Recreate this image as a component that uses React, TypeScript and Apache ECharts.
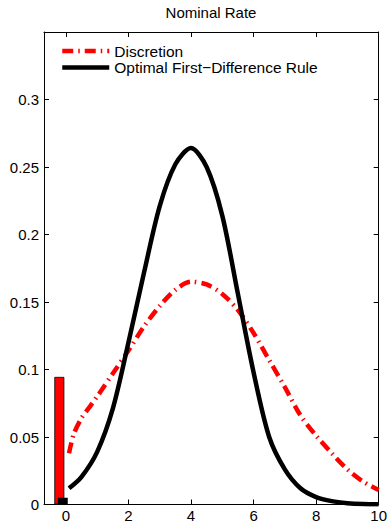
import React, { useEffect, useRef } from "react";
import * as echarts from "echarts";

const titleText = "Nominal Rate";
const seriesNames = ["Discretion", "Optimal First\u2212Difference Rule"];

const discretionX = [0.1, 0.25, 0.5, 0.75, 1.0, 1.5, 2.0, 2.5, 3.0, 3.5, 4.0, 4.5, 5.0, 5.5, 6.0, 6.5, 7.0, 7.5, 8.0, 8.5, 9.0, 9.5, 10.0];
const discretionY = [0.038, 0.052, 0.064, 0.072, 0.080, 0.097, 0.114, 0.132, 0.147, 0.159, 0.165, 0.163, 0.156, 0.144, 0.127, 0.107, 0.087, 0.066, 0.051, 0.038, 0.026, 0.017, 0.0107];

const optimalX = [0.1, 0.5, 1.0, 1.5, 2.0, 2.5, 3.0, 3.5, 4.0, 4.5, 5.0, 5.5, 6.0, 6.5, 7.0, 7.5, 8.0, 8.5, 9.0, 9.5, 10.0];
const optimalY = [0.012, 0.0205, 0.039, 0.071, 0.120, 0.172, 0.221, 0.252, 0.264, 0.250, 0.214, 0.156, 0.098, 0.050, 0.026, 0.012, 0.0055, 0.0025, 0.001, 0.0003, 0.0001];

// mass at the zero lower bound (bars drawn just left of 0)
const barDiscretion = [-0.21, 0.0945];
const barOptimal = [-0.1, 0.005];

const xTicks = [0, 2, 4, 6, 8, 10];
const xMin = -0.7;
const xMax = 10;
const yMin = 0;
const yMax = 0.35;
const yStep = 0.05;

const FONT = "'Liberation Sans', Arial, Helvetica, sans-serif";

export default function App() {
  const ref = useRef<HTMLDivElement>(null);
  useEffect(() => {
    if (!ref.current) return;
    const chart = echarts.init(ref.current, undefined, { renderer: "svg" });
    const dData = discretionX.map((x, i) => [x, discretionY[i]]);
    const oData = optimalX.map((x, i) => [x, optimalY[i]]);
    const yFmt = (v: number) => {
      if (v > yMax - 1e-6) return "";
      return String(Math.round(v * 100) / 100);
    };
    chart.setOption({
      animation: false,
      backgroundColor: "#fff",
      textStyle: { fontFamily: FONT },
      title: {
        text: titleText,
        left: 211,
        textAlign: "center",
        top: 5,
        padding: 0,
        textStyle: { fontFamily: FONT, fontSize: 15, fontWeight: "normal", color: "#000" },
      },
      legend: {
        data: seriesNames,
        left: 60,
        top: 43,
        orient: "vertical",
        itemWidth: 47,
        itemHeight: 19,
        itemGap: 0.5,
        padding: 0,
        itemStyle: { opacity: 0 },
        lineStyle: { width: 4.5 },
        textStyle: { fontFamily: FONT, fontSize: 15.5, color: "#000" },
      },
      grid: { left: 44, right: 10, top: 32, bottom: 21.5, containLabel: false },
      xAxis: [
        {
          type: "value",
          min: xMin,
          max: xMax,
          position: "bottom",
          axisLine: { show: true, lineStyle: { color: "#000", width: 1 } },
          axisTick: { show: true, inside: true, length: 5, customValues: xTicks, lineStyle: { color: "#000" } },
          axisLabel: { show: true, customValues: xTicks, margin: 3, fontFamily: FONT, fontSize: 15, color: "#000" },
          splitLine: { show: false },
        },
        {
          type: "value",
          min: xMin,
          max: xMax,
          position: "top",
          axisLine: { show: true, onZero: false, lineStyle: { color: "#000", width: 1 } },
          axisTick: { show: true, inside: true, length: 5, customValues: xTicks, lineStyle: { color: "#000" } },
          axisLabel: { show: false },
          splitLine: { show: false },
        },
      ],
      yAxis: [
        {
          type: "value",
          min: yMin,
          max: yMax,
          interval: yStep,
          position: "left",
          axisLine: { show: true, onZero: false, lineStyle: { color: "#000", width: 1 } },
          axisTick: { show: true, inside: true, length: 5, lineStyle: { color: "#000" } },
          axisLabel: { show: true, margin: 5, formatter: yFmt, fontFamily: FONT, fontSize: 15, color: "#000" },
          splitLine: { show: false },
        },
        {
          type: "value",
          min: yMin,
          max: yMax,
          interval: yStep,
          position: "right",
          axisLine: { show: true, onZero: false, lineStyle: { color: "#000", width: 1 } },
          axisTick: { show: true, inside: true, length: 5, lineStyle: { color: "#000" } },
          axisLabel: { show: false },
          splitLine: { show: false },
        },
      ],
      series: [
        {
          name: "zlbDiscretion",
          type: "bar",
          xAxisIndex: 0,
          yAxisIndex: 0,
          barWidth: 10,
          barGap: "-100%",
          data: [barDiscretion],
          itemStyle: { color: "#ff0000", borderColor: "#000", borderWidth: 0.8 },
          z: 2,
        },
        {
          name: "zlbOptimal",
          type: "bar",
          xAxisIndex: 0,
          yAxisIndex: 0,
          barWidth: 10,
          barGap: "-100%",
          data: [barOptimal],
          itemStyle: { color: "#000" },
          z: 3,
        },
        {
          name: seriesNames[0],
          type: "line",
          xAxisIndex: 0,
          yAxisIndex: 0,
          data: dData,
          smooth: 0.3,
          symbol: "none",
          lineStyle: { color: "#ff0000", width: 4.5, type: [11, 5, 1.5, 5], cap: "butt" },
          itemStyle: { color: "#ff0000" },
          z: 4,
        },
        {
          name: seriesNames[1],
          type: "line",
          xAxisIndex: 0,
          yAxisIndex: 0,
          data: oData,
          smooth: 0.3,
          symbol: "none",
          lineStyle: { color: "#000", width: 4.5, type: "solid" },
          itemStyle: { color: "#000" },
          z: 5,
        },
      ],
    });
    return () => chart.dispose();
  }, []);
  return (
    <div
      ref={ref}
      style={{ position: "absolute", left: 0, top: 0, width: 390, height: 526, background: "#fff" }}
    />
  );
}
